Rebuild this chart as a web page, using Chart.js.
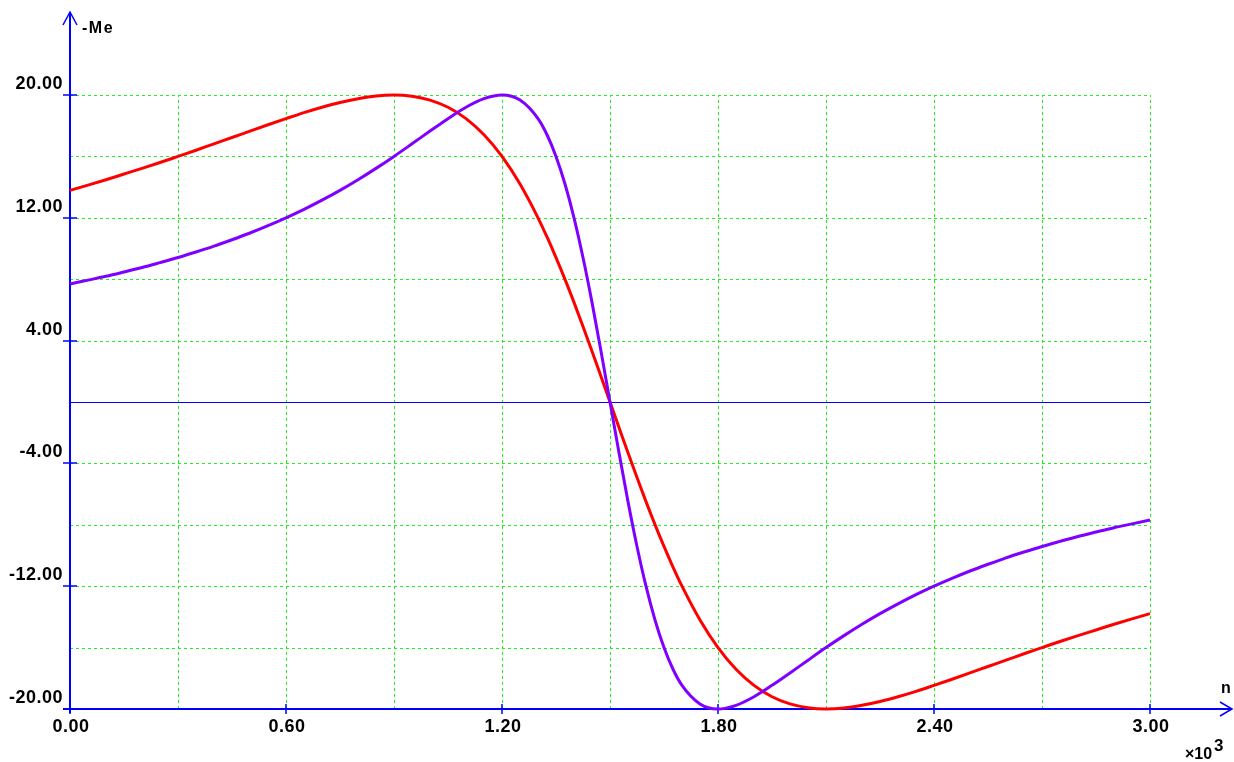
<!DOCTYPE html>
<html>
<head>
<meta charset="utf-8">
<script src="https://cdn.jsdelivr.net/npm/chart.js@4.4.0/dist/chart.umd.min.js"></script>
<style>
  html, body { margin: 0; padding: 0; background: #fff; }
  #wrap { width: 1234px; height: 762px; position: relative; }
</style>
</head>
<body>
<div id="wrap"><canvas id="grafMe"></canvas></div>
<script>
// speed n (x10^3)
var nValues = [
  0, 0.05, 0.1, 0.15, 0.2, 0.25, 0.3, 0.35, 0.4, 0.45, 0.5, 0.55, 0.6, 0.65, 0.7, 0.75,
  0.8, 0.85, 0.9, 0.95, 1.0, 1.05, 1.1, 1.15, 1.2, 1.25, 1.3,
  1.325, 1.35, 1.375, 1.4, 1.425, 1.45, 1.475, 1.5,
  1.525, 1.55, 1.575, 1.6, 1.625, 1.65, 1.675, 1.7,
  1.75, 1.8, 1.85, 1.9, 1.95, 2.0, 2.05, 2.1, 2.15, 2.2, 2.25, 2.3, 2.35, 2.4, 2.45,
  2.5, 2.55, 2.6, 2.65, 2.7, 2.75, 2.8, 2.85, 2.9, 2.95, 3.0
];
// -Me, purple curve
var mePurple = [
  7.69, 7.94, 8.19, 8.47, 8.76, 9.08, 9.41, 9.77, 10.15, 10.57, 11.01, 11.49, 12.00, 12.55, 13.15, 13.79,
  14.48, 15.22, 16.00, 16.82, 17.65, 18.46, 19.20, 19.76, 20.00, 19.67, 18.46,
  17.41, 16.00, 14.20, 12.00, 9.41, 6.49, 3.31, 0,
  -3.31, -6.49, -9.41, -12.00, -14.20, -16.00, -17.41, -18.46,
  -19.67, -20.00, -19.76, -19.20, -18.46, -17.65, -16.82, -16.00, -15.22, -14.48, -13.79, -13.15, -12.55, -12.00, -11.49,
  -11.01, -10.57, -10.15, -9.77, -9.41, -9.08, -8.76, -8.47, -8.19, -7.94, -7.69
];
// -Me, red curve
var meRed = [
  13.79, 14.13, 14.48, 14.85, 15.22, 15.60, 16.00, 16.40, 16.82, 17.23, 17.65, 18.06, 18.46, 18.85, 19.20, 19.51,
  19.76, 19.94, 20.00, 19.92, 19.67, 19.20, 18.46, 17.41, 16.00, 14.20, 12.00,
  10.75, 9.41, 7.99, 6.49, 4.92, 3.31, 1.66, 0,
  -1.66, -3.31, -4.92, -6.49, -7.99, -9.41, -10.75, -12.00,
  -14.20, -16.00, -17.41, -18.46, -19.20, -19.67, -19.92, -20.00, -19.94, -19.76, -19.51, -19.20, -18.85, -18.46, -18.06,
  -17.65, -17.23, -16.82, -16.40, -16.00, -15.60, -15.22, -14.85, -14.48, -14.13, -13.79
];

var xGrid = [0.3, 0.6, 0.9, 1.2, 1.5, 1.8, 2.1, 2.4, 2.7, 3.0];
var yGrid = [-16, -12, -8, -4, 0, 4, 8, 12, 16, 20];
var xTicks = [0, 0.6, 1.2, 1.8, 2.4, 3.0];
var xTickLabels = ["0.00", "0.60", "1.20", "1.80", "2.40", "3.00"];
var yTicks = [20, 12, 4, -4, -12, -20];
var yTickLabels = ["20.00", "12.00", "4.00", "-4.00", "-12.00", "-20.00"];

function puntos(ys) {
  return nValues.map(function (n, i) { return { x: n, y: ys[i] }; });
}

var BLUE = '#0000ff';
var GREEN = '#22ee22';

var ejes = {
  id: 'ejes',
  beforeDatasetsDraw: function (chart) {
    var ctx = chart.ctx, sx = chart.scales.x, sy = chart.scales.y;
    var x0 = Math.round(sx.getPixelForValue(0)), x1 = Math.round(sx.getPixelForValue(3));
    var yb = Math.round(sy.getPixelForValue(-20)), yt = Math.round(sy.getPixelForValue(20));
    ctx.save();
    // grid
    ctx.strokeStyle = GREEN;
    ctx.lineWidth = 1;
    ctx.setLineDash([3, 3]);
    xGrid.forEach(function (v) {
      var px = Math.round(sx.getPixelForValue(v)) + 0.5;
      ctx.beginPath(); ctx.moveTo(px, yb); ctx.lineTo(px, yt); ctx.stroke();
    });
    yGrid.forEach(function (v) {
      var py = Math.round(sy.getPixelForValue(v)) + 0.5;
      ctx.beginPath(); ctx.moveTo(x0, py); ctx.lineTo(x1, py); ctx.stroke();
    });
    ctx.setLineDash([]);
    // zero line
    ctx.strokeStyle = BLUE;
    var pz = Math.round(sy.getPixelForValue(0)) + 0.5;
    ctx.beginPath(); ctx.moveTo(x0, pz); ctx.lineTo(x1, pz); ctx.stroke();
    // axes
    ctx.lineWidth = 2;
    ctx.beginPath(); ctx.moveTo(x0, 12); ctx.lineTo(x0, yb + 4); ctx.stroke();
    ctx.beginPath(); ctx.moveTo(x0 - 7, yb); ctx.lineTo(1232, yb); ctx.stroke();
    ctx.lineWidth = 1.5;
    // arrows
    ctx.beginPath(); ctx.moveTo(x0 - 7, 25); ctx.lineTo(x0, 12); ctx.lineTo(x0 + 7, 25); ctx.stroke();
    ctx.beginPath(); ctx.moveTo(1220, yb - 7); ctx.lineTo(1232, yb); ctx.lineTo(1220, yb + 7); ctx.stroke();
    // ticks
    yTicks.forEach(function (v) {
      var py = Math.round(sy.getPixelForValue(v));
      ctx.beginPath(); ctx.moveTo(x0 - 7, py); ctx.lineTo(x0 + 7, py); ctx.stroke();
    });
    xTicks.forEach(function (v) {
      var px = Math.round(sx.getPixelForValue(v));
      ctx.beginPath(); ctx.moveTo(px, yb - 5); ctx.lineTo(px, yb + 5); ctx.stroke();
    });
    ctx.restore();
  },
  afterDraw: function (chart) {
    var ctx = chart.ctx, sx = chart.scales.x, sy = chart.scales.y;
    var x0 = sx.getPixelForValue(0), yb = sy.getPixelForValue(-20);
    ctx.save();
    ctx.fillStyle = '#000';
    ctx.letterSpacing = '0.5px';
    ctx.font = 'bold 18px "Liberation Sans", Arial, sans-serif';
    ctx.textAlign = 'right';
    ctx.textBaseline = 'middle';
    yTicks.forEach(function (v, i) {
      ctx.fillText(yTickLabels[i], x0 - 7, sy.getPixelForValue(v) - 11);
    });
    ctx.textAlign = 'center';
    xTicks.forEach(function (v, i) {
      ctx.fillText(xTickLabels[i], sx.getPixelForValue(v) + 1, yb + 18);
    });
    ctx.letterSpacing = '1.5px';
    ctx.font = 'bold 16px "Liberation Sans", Arial, sans-serif';
    ctx.textAlign = 'left';
    ctx.fillText('-Me', x0 + 12, 29);
    ctx.letterSpacing = '0px';
    ctx.fillText('n', 1221, 689);
    ctx.textBaseline = 'alphabetic';
    ctx.font = 'bold 16px "Liberation Sans", Arial, sans-serif';
    ctx.fillText('\u00d710', 1185, 759);
    ctx.font = 'bold 17px "Liberation Sans", Arial, sans-serif';
    ctx.fillText('3', 1214, 751);
    ctx.restore();
  }
};

new Chart(document.getElementById('grafMe'), {
  type: 'scatter',
  data: {
    datasets: [
      { label: 'purple', data: puntos(mePurple), showLine: true, borderColor: '#8000ff',
        borderWidth: 3, pointRadius: 0, cubicInterpolationMode: 'monotone', clip: false },
      { label: 'red', data: puntos(meRed), showLine: true, borderColor: '#ff0000',
        borderWidth: 3, pointRadius: 0, cubicInterpolationMode: 'monotone', clip: false }
    ]
  },
  options: {
    responsive: true,
    maintainAspectRatio: false,
    animation: false,
    events: [],
    layout: { padding: { left: 70, right: 84, top: 95, bottom: 53 } },
    plugins: { legend: { display: false }, tooltip: { enabled: false } },
    scales: {
      x: { type: 'linear', min: 0, max: 3, display: false },
      y: { type: 'linear', min: -20, max: 20, display: false }
    }
  },
  plugins: [ejes]
});
</script>
</body>
</html>
